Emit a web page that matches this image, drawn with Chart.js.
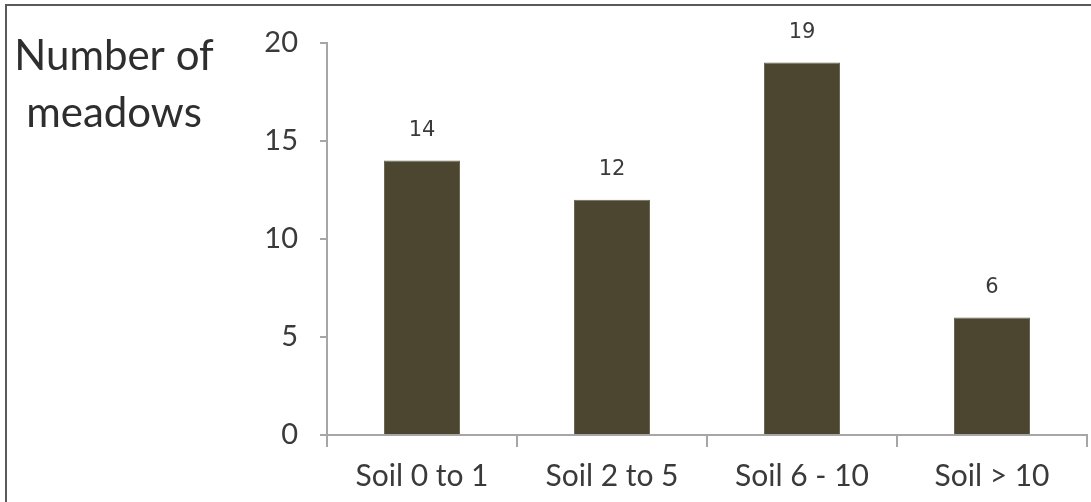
<!DOCTYPE html>
<html>
<head>
<meta charset="utf-8">
<script src="https://cdn.jsdelivr.net/npm/chart.js@4"></script>
<style>
  html, body { margin: 0; padding: 0; background: #fff; }
  #wrap { position: relative; width: 1091px; height: 502px; }
</style>
</head>
<body>
<div id="wrap"><canvas id="meadows-chart" width="1091" height="502"></canvas></div>
<script>
const categories = ['Soil 0 to 1', 'Soil 2 to 5', 'Soil 6 - 10', 'Soil > 10'];
const meadowCounts = [14, 12, 19, 6];
const yTicks = [0, 5, 10, 15, 20];
const axisTitle = ['Number of', 'meadows'];

const textColor = '#3a3a3a';
const axisColor = '#a6a6a6';
const barColor = '#4c4630';

// frame lines on the top and left edge + the horizontal axis title
const framePlugin = {
  id: 'frame',
  afterDraw(chart) {
    const ctx = chart.ctx;
    ctx.save();
    ctx.strokeStyle = '#5a5a5a';
    ctx.lineWidth = 2;
    ctx.beginPath();
    ctx.moveTo(6, 502);
    ctx.lineTo(6, 5);
    ctx.lineTo(1091, 5);
    ctx.stroke();

    ctx.fillStyle = '#2e2e2e';
    ctx.font = '42px Lato, sans-serif';
    ctx.textAlign = 'center';
    ctx.textBaseline = 'alphabetic';
    ctx.fillText(axisTitle[0], 114, 70);
    ctx.fillText(axisTitle[1], 114, 127);
    ctx.restore();
  }
};

// value printed above each bar
const valueLabels = {
  id: 'valueLabels',
  afterDatasetsDraw(chart) {
    const ctx = chart.ctx;
    const meta = chart.getDatasetMeta(0);
    ctx.save();
    ctx.fillStyle = textColor;
    ctx.font = '21px "DejaVu Sans", sans-serif';
    ctx.textAlign = 'center';
    ctx.textBaseline = 'middle';
    meta.data.forEach((bar, i) => {
      ctx.fillText(chart.data.datasets[0].data[i], bar.x, bar.y - 30);
    });
    ctx.restore();
  }
};

const ctx = document.getElementById('meadows-chart').getContext('2d');
new Chart(ctx, {
  type: 'bar',
  data: {
    labels: categories,
    datasets: [{
      data: meadowCounts,
      backgroundColor: barColor,
      borderColor: '#6b6650',
      borderWidth: 1,
      categoryPercentage: 1,
      barPercentage: 0.4
    }]
  },
  options: {
    responsive: false,
    animation: false,
    layout: { padding: { left: 0, top: 43, right: 4, bottom: 0 } },
    plugins: {
      legend: { display: false },
      tooltip: { enabled: false }
    },
    scales: {
      x: {
        afterFit(scale) { scale.height = 67; },
        grid: {
          offset: true,
          drawOnChartArea: false,
          drawTicks: true,
          tickLength: 12,
          color: axisColor,
          lineWidth: 2
        },
        border: { color: axisColor, width: 2 },
        ticks: {
          color: textColor,
          padding: 11,
          font: { family: 'Lato, sans-serif', size: 30 }
        }
      },
      y: {
        min: 0,
        max: 20,
        afterFit(scale) { scale.width = 327; },
        afterBuildTicks(scale) { scale.ticks = yTicks.map(v => ({ value: v })); },
        grid: {
          drawOnChartArea: false,
          drawTicks: true,
          tickLength: 7,
          color: axisColor,
          lineWidth: 2
        },
        border: { color: axisColor, width: 2 },
        ticks: {
          color: textColor,
          padding: 22,
          font: { family: 'Lato, sans-serif', size: 29 }
        }
      }
    }
  },
  plugins: [framePlugin, valueLabels]
});
</script>
</body>
</html>
